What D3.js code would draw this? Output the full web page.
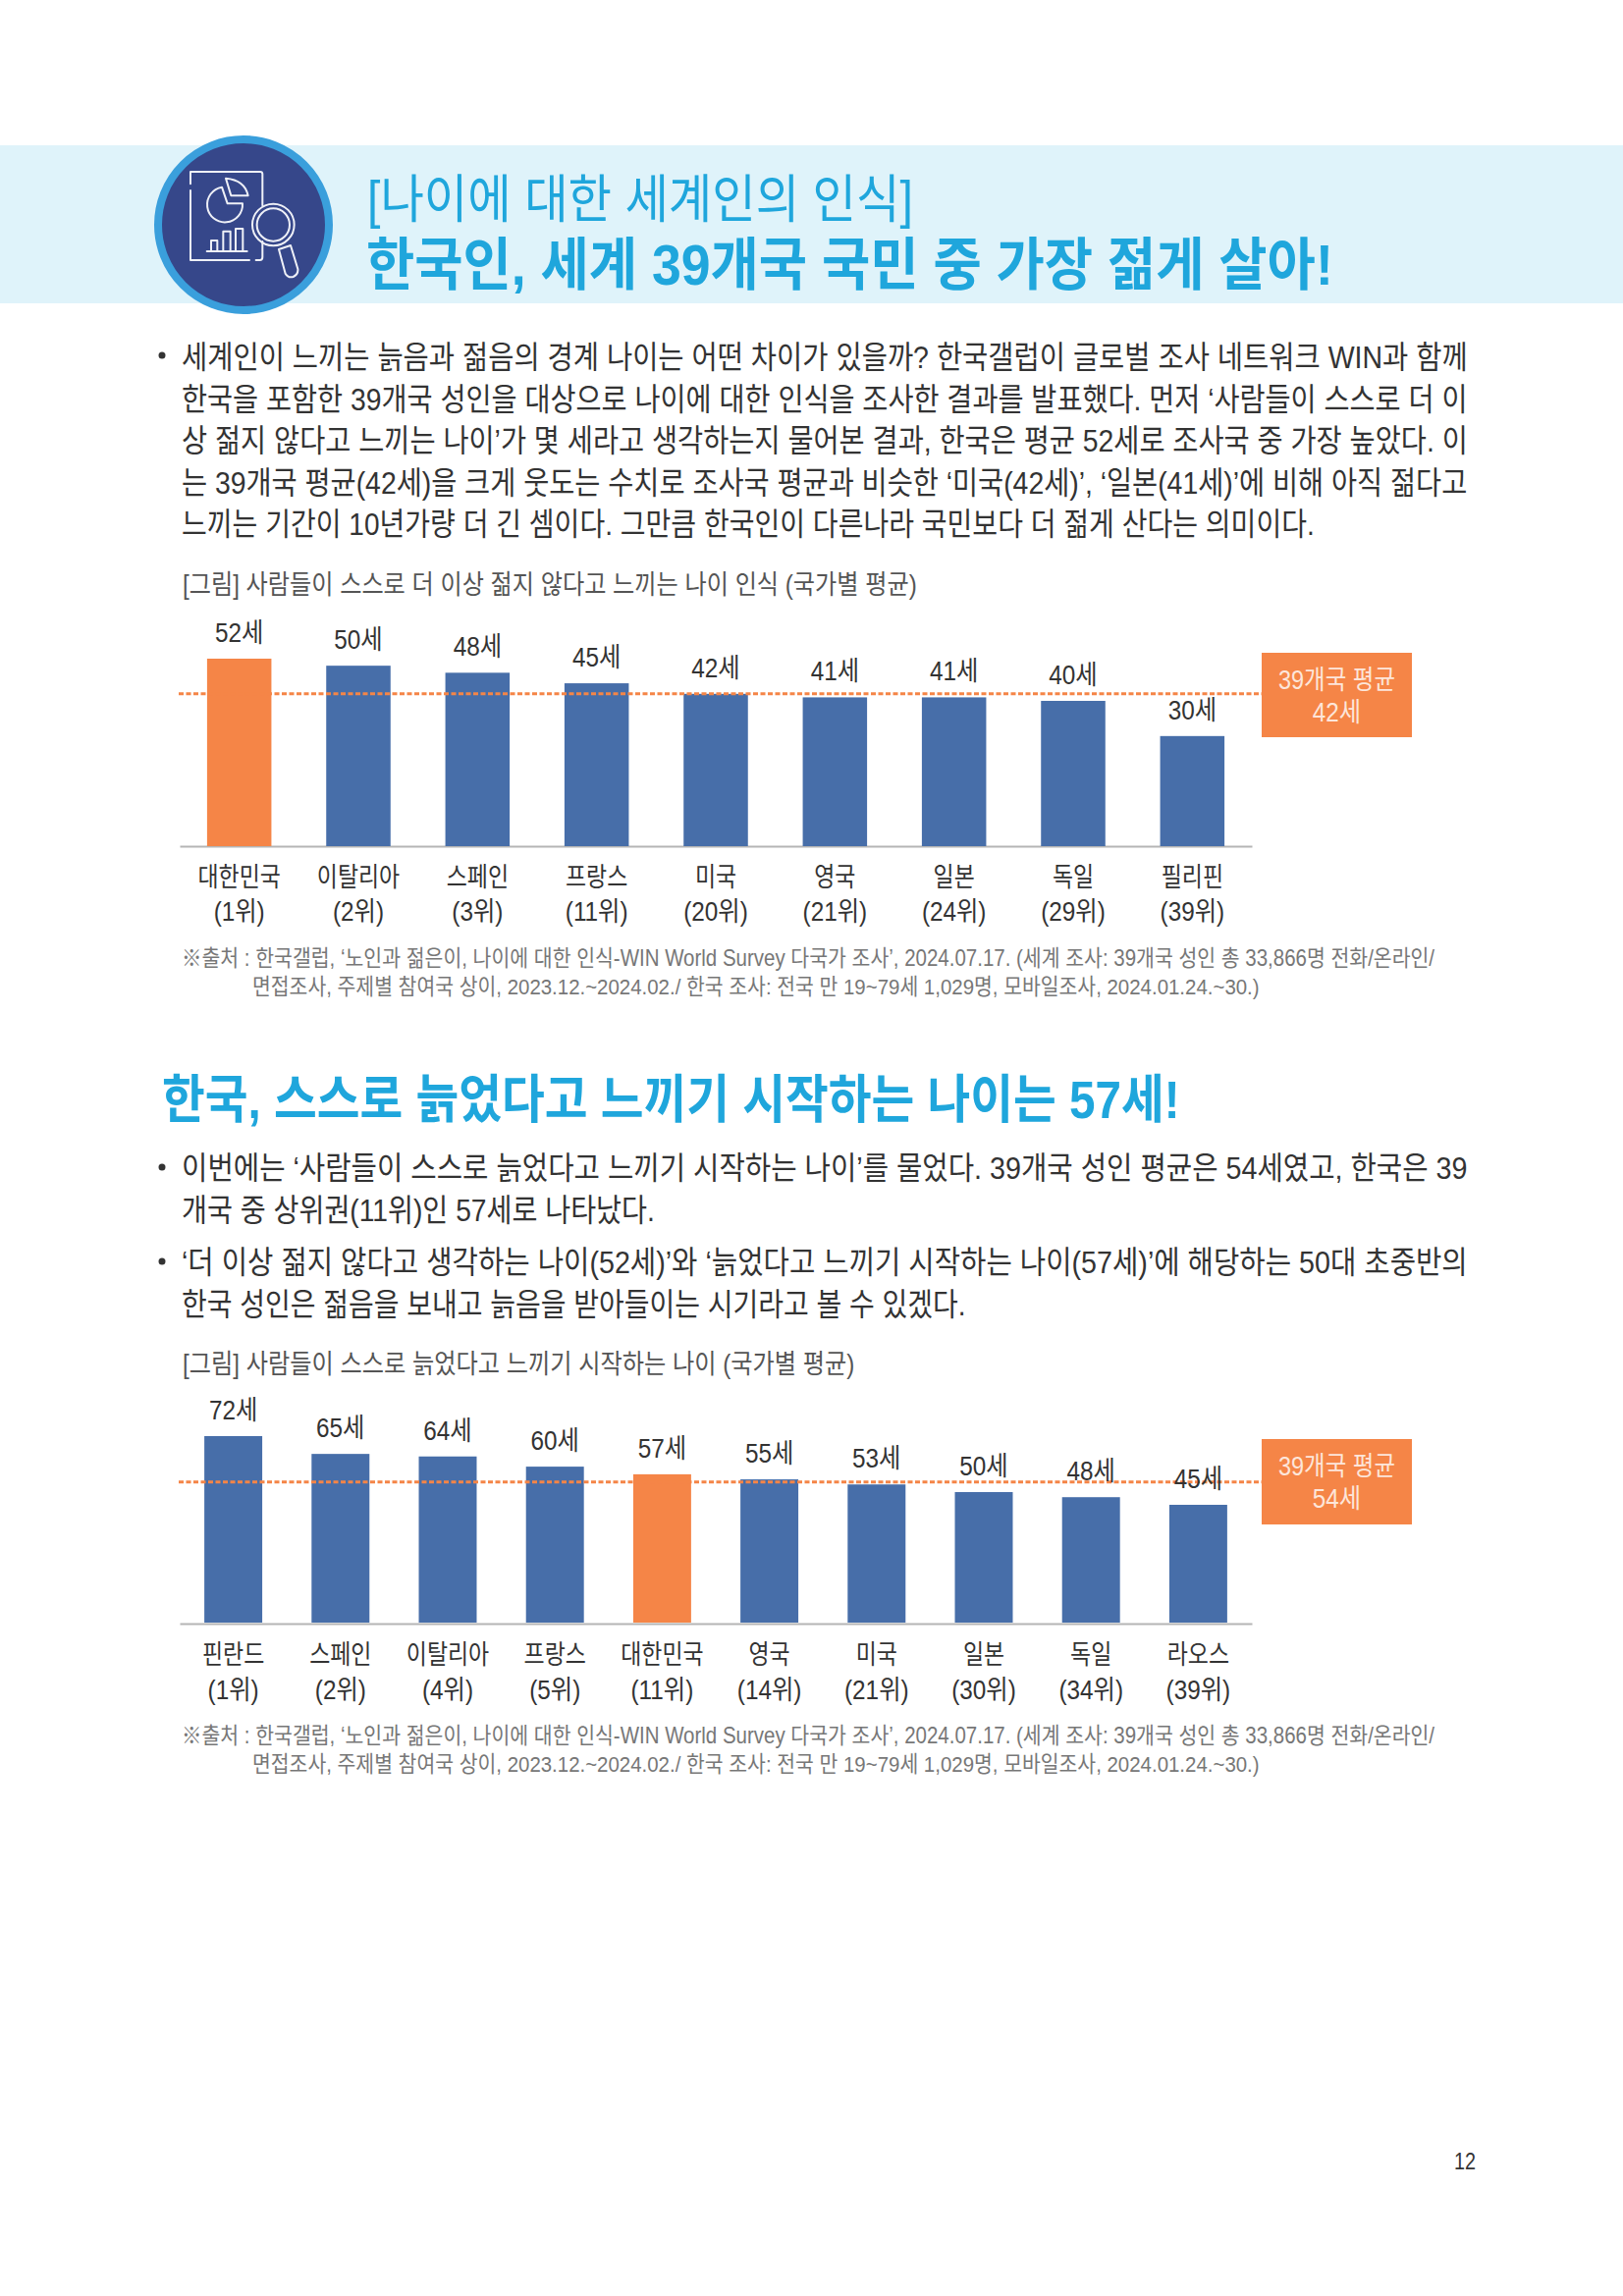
<!DOCTYPE html>
<html lang="ko">
<head>
<meta charset="utf-8">
<script src="https://cdn.jsdelivr.net/npm/d3@7"></script>
<style>
body { margin: 0; background: #fff; }
text { font-family: "Liberation Sans", "Noto Sans CJK KR", sans-serif; }
</style>
</head>
<body>
<svg id="page" width="1653" height="2339"></svg>
<script>
// first chart
var countries1 = ["대한민국", "이탈리아", "스페인", "프랑스", "미국", "영국", "일본", "독일", "필리핀"];
var ranks1 = ["(1위)", "(2위)", "(3위)", "(11위)", "(20위)", "(21위)", "(24위)", "(29위)", "(39위)"];
var ages1 = [52, 50, 48, 45, 42, 41, 41, 40, 30];
var average1 = 42;

// second chart
var countries2 = ["핀란드", "스페인", "이탈리아", "프랑스", "대한민국", "영국", "미국", "일본", "독일", "라오스"];
var ranks2 = ["(1위)", "(2위)", "(4위)", "(5위)", "(11위)", "(14위)", "(21위)", "(30위)", "(34위)", "(39위)"];
var ages2 = [72, 65, 64, 60, 57, 55, 53, 50, 48, 45];
var average2 = 54;

var highlight = "대한민국";
var averageLabel = "39개국 평균";

var heading1 = "[나이에 대한 세계인의 인식]";
var heading2 = "한국인, 세계 39개국 국민 중 가장 젊게 살아!";
var heading3 = "한국, 스스로 늙었다고 느끼기 시작하는 나이는 57세!";
var caption1 = "[그림] 사람들이 스스로 더 이상 젊지 않다고 느끼는 나이 인식 (국가별 평균)";
var caption2 = "[그림] 사람들이 스스로 늙었다고 느끼기 시작하는 나이 (국가별 평균)";
var source1 = "※출처 : 한국갤럽, ‘노인과 젊은이, 나이에 대한 인식-WIN World Survey 다국가 조사’, 2024.07.17. (세계 조사: 39개국 성인 총 33,866명 전화/온라인/";
var source2 = "면접조사, 주제별 참여국 상이, 2023.12.~2024.02./ 한국 조사: 전국 만 19~79세 1,029명, 모바일조사, 2024.01.24.~30.)";
var body1 = [
	"세계인이 느끼는 늙음과 젊음의 경계 나이는 어떤 차이가 있을까? 한국갤럽이 글로벌 조사 네트워크 WIN과 함께",
	"한국을 포함한 39개국 성인을 대상으로 나이에 대한 인식을 조사한 결과를 발표했다. 먼저 ‘사람들이 스스로 더 이",
	"상 젊지 않다고 느끼는 나이’가 몇 세라고 생각하는지 물어본 결과, 한국은 평균 52세로 조사국 중 가장 높았다. 이",
	"는 39개국 평균(42세)을 크게 웃도는 수치로 조사국 평균과 비슷한 ‘미국(42세)’, ‘일본(41세)’에 비해 아직 젊다고",
	"느끼는 기간이 10년가량 더 긴 셈이다. 그만큼 한국인이 다른나라 국민보다 더 젊게 산다는 의미이다."
];
var body2 = [
	"이번에는 ‘사람들이 스스로 늙었다고 느끼기 시작하는 나이’를 물었다. 39개국 성인 평균은 54세였고, 한국은 39",
	"개국 중 상위권(11위)인 57세로 나타났다.",
	"‘더 이상 젊지 않다고 생각하는 나이(52세)’와 ‘늙었다고 느끼기 시작하는 나이(57세)’에 해당하는 50대 초중반의",
	"한국 성인은 젊음을 보내고 늙음을 받아들이는 시기라고 볼 수 있겠다."
];

var BLUE = "#476ea9", ORANGE = "#f58547", SKY = "#1fa6dc", INK = "#333";
var svg = d3.select("#page");

// x1 = left edge, x2 = right edge the line has to fill
function line(x1, x2, y, str, size, fill, weight){
	var t = svg.append("text")
		.attr("font-size", size)
		.attr("font-weight", weight || 400)
		.attr("fill", fill)
		.text(str);
	var k = (x2 - x1) / t.node().getComputedTextLength();
	return t.attr("transform", "translate(" + x1 + "," + y + ") scale(" + k + ",1)");
}

// condense a label around its anchor, the original font is a narrow one
function squeeze(sel, k){
	sel.each(function(){
		this.setAttribute("textLength", this.getComputedTextLength() * k);
		this.setAttribute("lengthAdjust", "spacingAndGlyphs");
	});
}

function bullet(y){
	svg.append("circle").attr("cx", 165).attr("cy", y).attr("r", 3.5).attr("fill", INK);
}

function barChart(opt){
	var x = d3.scaleBand().domain(opt.countries).range([183, 1275]).paddingInner(0.46).paddingOuter(0.23);
	var y = d3.scaleLinear().domain(opt.domain).range([opt.base, opt.top]);
	var g = svg.append("g");

	var axis = g.append("g")
		.attr("transform", "translate(0," + opt.axisY + ")")
		.call(d3.axisBottom(x).tickSize(0));
	axis.select(".domain").attr("stroke", "#b5b5b5").attr("stroke-width", 2);
	axis.selectAll("text")
		.attr("y", opt.nameY - opt.axisY).attr("dy", 0)
		.attr("font-family", null)
		.attr("font-size", 27).attr("fill", INK)
		.call(squeeze, 0.85);
	axis.selectAll(".tick").append("text")
		.attr("y", opt.rankY - opt.axisY)
		.attr("text-anchor", "middle")
		.attr("font-size", 27).attr("fill", INK)
		.text(function(d, i){ return opt.ranks[i]; })
		.call(squeeze, 0.9);

	g.selectAll("rect.bar").data(opt.ages).enter().append("rect")
		.attr("class", "bar")
		.attr("x", function(d, i){ return x(opt.countries[i]); })
		.attr("width", x.bandwidth())
		.attr("y", function(d){ return y(d); })
		.attr("height", function(d){ return opt.base - y(d); })
		.attr("fill", function(d, i){ return opt.countries[i] == highlight ? ORANGE : BLUE; });

	g.append("line")
		.attr("x1", 182).attr("x2", 1285)
		.attr("y1", y(opt.average)).attr("y2", y(opt.average))
		.attr("stroke", ORANGE).attr("stroke-width", 3)
		.attr("stroke-dasharray", "5 2.5");

	g.selectAll("text.val").data(opt.ages).enter().append("text")
		.attr("class", "val")
		.attr("x", function(d, i){ return x(opt.countries[i]) + x.bandwidth() / 2; })
		.attr("y", function(d){ return y(d) - 17; })
		.attr("text-anchor", "middle")
		.attr("font-size", 27).attr("fill", INK)
		.text(function(d){ return d + "세"; })
		.call(squeeze, 0.9);

	g.append("rect")
		.attr("x", 1285).attr("y", opt.boxY)
		.attr("width", 153).attr("height", opt.boxH)
		.attr("fill", ORANGE);
	var mid = 1361.5;
	g.append("text").attr("x", mid).attr("y", opt.boxY + 37).attr("text-anchor", "middle")
		.attr("font-size", 27).attr("fill", "#fde6da").text(averageLabel).call(squeeze, 0.87);
	g.append("text").attr("x", mid).attr("y", opt.boxY + 70).attr("text-anchor", "middle")
		.attr("font-size", 27).attr("fill", "#fde6da").text(opt.average + "세").call(squeeze, 0.9);
}

// top banner
svg.append("rect").attr("x", 0).attr("y", 148).attr("width", 1653).attr("height", 161).attr("fill", "#dff3fa");
svg.append("circle").attr("cx", 248).attr("cy", 229).attr("r", 87)
	.attr("fill", "#36478a").attr("stroke", "#3a9fdc").attr("stroke-width", 8);

// report icon, drawn on a 600 unit box
var icon = svg.append("g")
	.attr("transform", "translate(150,130) scale(0.3333)")
	.attr("fill", "none").attr("stroke", "#eef0f7").attr("stroke-width", 6)
	.attr("stroke-linecap", "round").attr("stroke-linejoin", "round");
var iconPaths = [
	"M132 172V135H345Q352 135 352 142V238",
	"M132 192V405H312",
	"M332 405H344Q352 405 352 396V348",
	"M228 182A54 54 0 1 0 291 232H245Z",
	"M240 155Q298 160 308 208H256Z",
	"M182 378H305",
	"M195 378V345H214V378",
	"M232 378V317H254V378",
	"M270 378V309H292V378",
	"M402 372L438 360L460 432Q462 448 446 456Q430 460 422 446Z"
];
icon.selectAll("path").data(iconPaths).enter().append("path").attr("d", function(d){ return d; });
icon.append("circle").attr("cx", 385).attr("cy", 297).attr("r", 64);
icon.append("circle").attr("cx", 385).attr("cy", 297).attr("r", 50);

line(374, 930, 222, heading1, 54, SKY);
line(373, 1358, 290, heading2, 58, SKY, 700);

bullet(362);
body1.forEach(function(s, i){
	line(185, i == 4 ? 1339 : 1495, 375 + i * 42.6, s, 32, INK);
});

line(186, 934, 605, caption1, 27, "#555");
barChart({
	countries: countries1, ranks: ranks1, ages: ages1, average: average1,
	domain: [-1.3, 52], base: 862, top: 671, axisY: 862,
	nameY: 903, rankY: 938, boxY: 665, boxH: 86
});
line(185, 1462, 984, source1, 23, "#777");
line(257, 1283, 1013, source2, 23, "#777");

line(165, 1202, 1139, heading3, 54, SKY, 700);
bullet(1189);
bullet(1285);
line(185, 1495, 1201, body2[0], 32, INK);
line(185, 667, 1244, body2[1], 32, INK);
line(185, 1495, 1297, body2[2], 32, INK);
line(185, 984, 1340, body2[3], 32, INK);

line(186, 871, 1399, caption2, 27, "#555");
barChart({
	countries: countries2, ranks: ranks2, ages: ages2, average: average2,
	domain: [-1.3, 72], base: 1653, top: 1463, axisY: 1654,
	nameY: 1695, rankY: 1731, boxY: 1466, boxH: 87
});
line(185, 1462, 1776, source1, 23, "#777");
line(257, 1283, 1805, source2, 23, "#777");

var pageNo = svg.append("text").attr("x", 1503).attr("y", 2210).attr("text-anchor", "end")
	.attr("font-size", 23).attr("fill", INK).text("12");
pageNo.call(squeeze, 0.86);
</script>
</body>
</html>
